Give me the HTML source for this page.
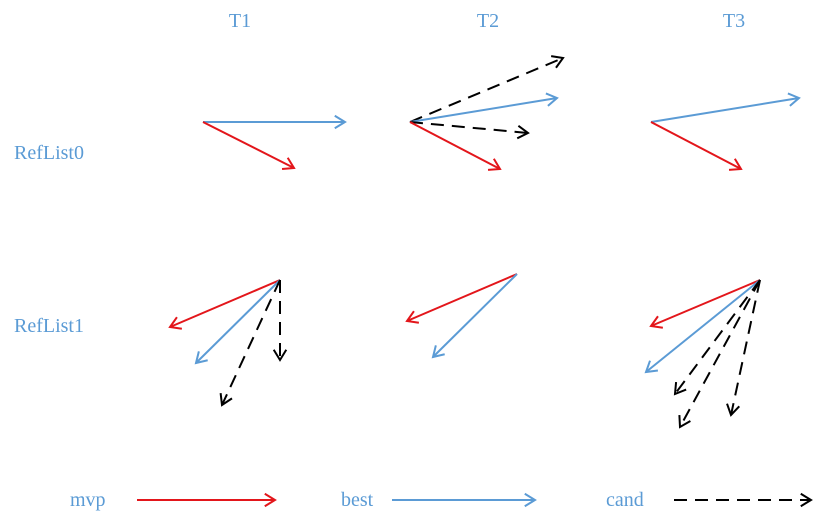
<!DOCTYPE html>
<html><head><meta charset="utf-8"><style>
html,body{margin:0;padding:0;background:#fff;}
svg{display:block;}
text{font-family:"Liberation Serif",serif;fill:#5b9bd5;font-size:20px;}
</style></head><body>
<svg id="c" width="813" height="526" viewBox="0 0 813 526">
<text x="240" y="27" text-anchor="middle">T1</text>
<text x="488" y="27" text-anchor="middle">T2</text>
<text x="734" y="27" text-anchor="middle">T3</text>
<text x="14" y="159">RefList0</text>
<text x="14" y="332">RefList1</text>
<text x="70" y="506">mvp</text>
<text x="341" y="506">best</text>
<text x="606" y="506">cand</text>
<g id="marks"></g>
</svg>
<script>
// vector data: origin points and endpoints
const origins = [[203,122],[410,122],[651,122],[280,280],[517,274],[760,280]];
const vecOrigin = [0,0, 1,1,1,1, 2,2, 3,3,3,3, 4,4, 5,5,5,5,5];
const vecType = ['best','mvp', 'cand','best','cand','mvp', 'best','mvp', 'mvp','best','cand','cand', 'mvp','best', 'mvp','best','cand','cand','cand'];
const vecEndX = [345,294, 563,557,528,500, 799,741, 170,196,222,280, 407,433, 651,646,675,680,731];
const vecEndY = [122,168, 58,98,133,169, 98,169, 327,363,405,360, 321,357, 326,372,394,427,415];
const legendTypes = ['mvp','best','cand'];
const legendX1 = [137,392,674];
const legendX2 = [275,535,811];
const legendY = 500;

const colors = {mvp:'#e3161b', best:'#5b9bd5', cand:'#000'};
const NS = 'http://www.w3.org/2000/svg';
const g = document.getElementById('marks');
function arrow(x1,y1,x2,y2,type,name){
  const grp = document.createElementNS(NS,'g');
  
  
  const col = colors[type];
  const l = document.createElementNS(NS,'line');
  l.setAttribute('x1',x1);l.setAttribute('y1',y1);l.setAttribute('x2',x2);l.setAttribute('y2',y2);
  l.setAttribute('stroke',col);l.setAttribute('stroke-width',2);
  if(type==='cand') l.setAttribute('stroke-dasharray','13,8');
  grp.appendChild(l);
  const a = Math.atan2(y2-y1,x2-x1), L=12, s=0.55;
  const p = document.createElementNS(NS,'polyline');
  p.setAttribute('points', `${x2-L*Math.cos(a-s)},${y2-L*Math.sin(a-s)} ${x2},${y2} ${x2-L*Math.cos(a+s)},${y2-L*Math.sin(a+s)}`);
  p.setAttribute('fill','none');p.setAttribute('stroke',col);p.setAttribute('stroke-width',2);
  grp.appendChild(p);
  g.appendChild(grp);
}
vecType.forEach((t,i)=>{
  const o = origins[vecOrigin[i]];
  arrow(o[0],o[1],vecEndX[i],vecEndY[i],t,t+'-vector-'+i);
});
legendTypes.forEach((t,i)=>{
  arrow(legendX1[i],legendY,legendX2[i],legendY,t,'legend-line-'+t);
});
</script>
</body></html>
